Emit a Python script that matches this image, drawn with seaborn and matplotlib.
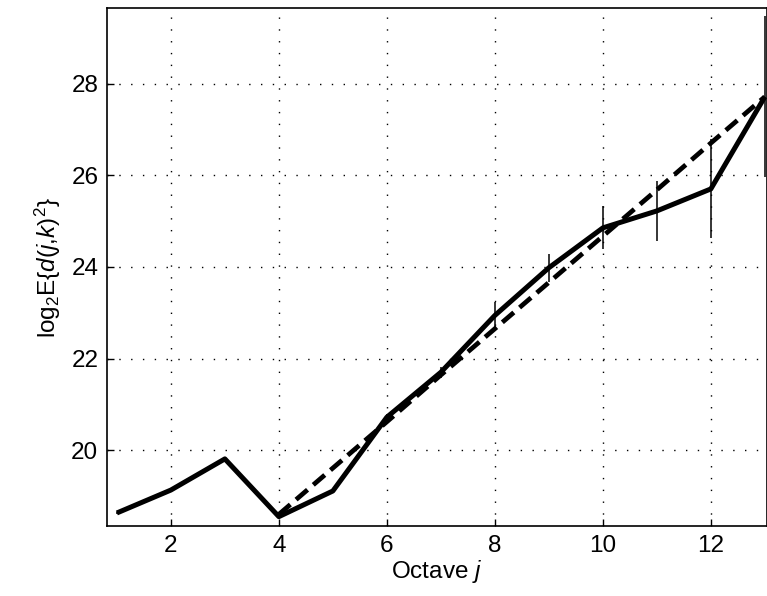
import numpy as np
import pandas as pd
import matplotlib
matplotlib.use('Agg')
import matplotlib.pyplot as plt
import seaborn as sns

# octaves and log2 energy estimates
octave = [1, 2, 3, 4, 5, 6, 7, 8, 9, 10, 11, 12, 13]
log_energy = [18.63, 19.13, 19.81, 18.55, 19.11, 20.72, 21.70,
              22.94, 23.98, 24.85, 25.22, 25.70, 27.71]
# half widths of the confidence intervals
half_ci = [0.02, 0.02, 0.03, 0.04, 0.05, 0.07, 0.12,
           0.30, 0.31, 0.47, 0.66, 1.08, 1.76]
# regression line over octaves 4..13
fit_octave = [4, 5, 6, 7, 8, 9, 10, 11, 12, 13]
fit_energy = [18.60, 19.61, 20.62, 21.64, 22.65, 23.66, 24.67, 25.68, 26.70, 27.71]

df = pd.DataFrame({'j': octave, 'y': log_energy})
df_fit = pd.DataFrame({'j': fit_octave, 'y': fit_energy})

sns.set_style('ticks')
plt.rcParams['font.family'] = ['Liberation Sans', 'DejaVu Sans']
plt.rcParams['mathtext.fontset'] = 'custom'
plt.rcParams['mathtext.rm'] = 'Liberation Sans'
plt.rcParams['mathtext.it'] = 'Liberation Sans:italic'
plt.rcParams['text.color'] = 'black'
plt.rcParams['axes.labelcolor'] = 'black'
plt.rcParams['xtick.color'] = 'black'
plt.rcParams['ytick.color'] = 'black'

fig = plt.figure(figsize=(7.67, 5.96), dpi=100)
ax = fig.add_axes([0.139, 0.117, 0.861, 0.869])

sns.lineplot(data=df, x='j', y='y', color='black', linewidth=3.6,
             solid_capstyle='butt', ax=ax, zorder=3)
sns.lineplot(data=df_fit, x='j', y='y', color='black', linewidth=3.4,
             dashes=False, ax=ax, zorder=3)
ax.lines[-1].set_dashes((3.2, 1.6))
ax.lines[-1].set_dash_capstyle('butt')
eb = ax.errorbar(octave, log_energy, yerr=half_ci, fmt='none',
                 ecolor='black', elinewidth=1.1, capsize=0, zorder=4)

ax.set_xlim(0.81, 13.04)
ax.set_ylim(18.34, 29.64)
ax.set_xticks([2, 4, 6, 8, 10, 12])
ax.set_yticks([20, 22, 24, 26, 28])
ax.grid(True, color='black', linestyle=(0, (1, 7.5)), linewidth=1.0)
ax.tick_params(direction='in', labelsize=17.5, length=5, width=1,
               top=False, right=False, pad=6)
for s in ax.spines.values():
    s.set_visible(True)
    s.set_color('black')
    s.set_linewidth(1.2)

ax.set_xlabel('Octave $j$', fontsize=17.5, labelpad=1)
ax.set_ylabel(r'$\mathrm{log}_2\mathrm{E}\{d(j{,}k)^2\}$', fontsize=17.5, labelpad=6)

fig.savefig('out.png', dpi=100)
